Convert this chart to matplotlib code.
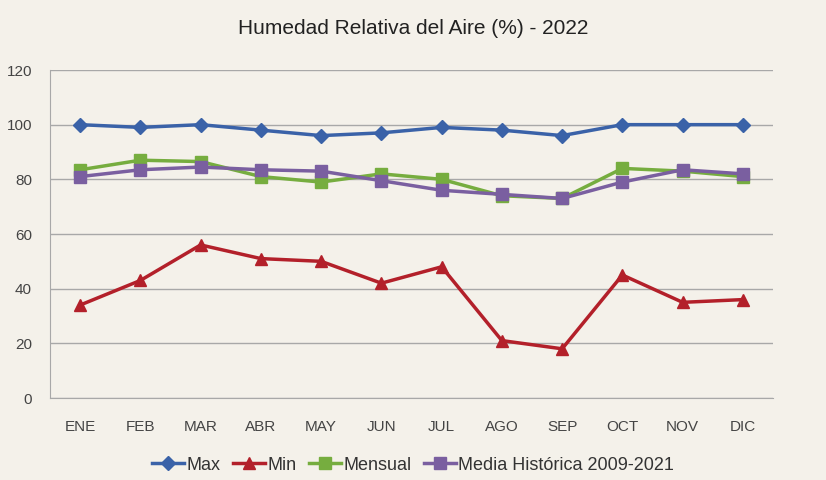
import matplotlib.pyplot as plt
from matplotlib import font_manager

months = ["ENE", "FEB", "MAR", "ABR", "MAY", "JUN", "JUL", "AGO", "SEP", "OCT", "NOV", "DIC"]
hum_max = [100, 99, 100, 98, 96, 97, 99, 98, 96, 100, 100, 100]
hum_min = [34, 43, 56, 51, 50, 42, 48, 21, 18, 45, 35, 36]
hum_mensual = [83.5, 87, 86.5, 81, 79, 82, 80, 74, 73, 84, 83, 81]
hum_media = [81, 83.5, 84.5, 83.5, 83, 79.5, 76, 74.5, 73, 79, 83.5, 82]

# condensed look if available
names = {f.name for f in font_manager.fontManager.ttflist}
fam = ["Liberation Sans Narrow", "DejaVu Sans"] if "Liberation Sans Narrow" in names else ["Liberation Sans", "DejaVu Sans"]
plt.rcParams["font.family"] = fam

bg = "#F4F1EA"
fig = plt.figure(figsize=(8.26, 4.8), dpi=100, facecolor=bg)
ax = fig.add_axes([50 / 826, 1 - 398 / 480, 723 / 826, 328 / 480], facecolor=bg)

x = list(range(len(months)))
ax.plot(x, hum_max, color="#3A62A8", lw=2.5, marker="D", ms=7, label="Max", zorder=4)
ax.plot(x, hum_min, color="#B3202A", lw=2.5, marker="^", ms=8, label="Min", zorder=4)
ax.plot(x, hum_mensual, color="#76AD3F", lw=2.5, marker="s", ms=8, label="Mensual", zorder=3)
ax.plot(x, hum_media, color="#7A5FA0", lw=2.5, marker="s", ms=8, label="Media Histórica 2009-2021", zorder=3)

ax.set_xlim(-0.5, len(months) - 0.5)
ax.set_ylim(0, 120)
ax.set_yticks(range(0, 121, 20))
ax.set_xticks(x)
ax.set_xticklabels(months)
ax.grid(axis="y", color="#A8A8A8", lw=1)
ax.set_axisbelow(True)
for s in ["top", "right"]:
    ax.spines[s].set_visible(False)
for s in ["left", "bottom"]:
    ax.spines[s].set_color("#A8A8A8")
ax.tick_params(axis="both", length=0, labelsize=11, colors="#444444")
ax.tick_params(axis="y", pad=13)
ax.tick_params(axis="x", pad=16)

fig.text(0.5, 1 - 28 / 480, "Humedad Relativa del Aire (%) - 2022", ha="center", va="center",
         fontsize=15, color="#222222")

fig.legend(loc="center", bbox_to_anchor=(0.5, 1 - 465 / 480), ncol=4, frameon=False,
           fontsize=13, handlelength=1.8, handletextpad=0.1, columnspacing=0.7,
           labelcolor="#333333")

fig.savefig("out.png", dpi=100, facecolor=bg)
